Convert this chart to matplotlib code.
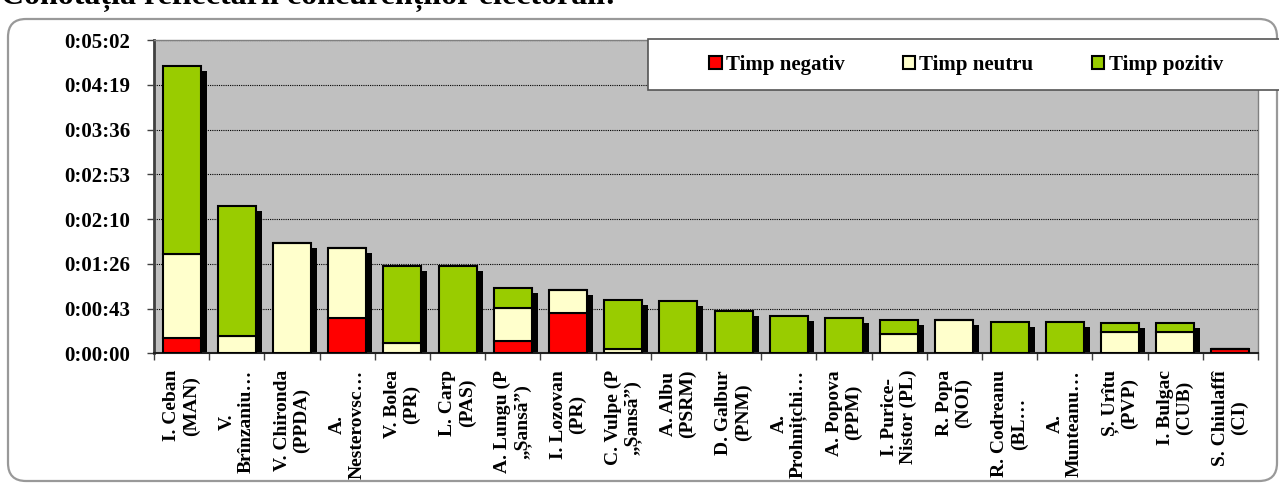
import numpy as np
import matplotlib
matplotlib.use("Agg")
import matplotlib.pyplot as plt
import matplotlib.transforms as mtransforms
from matplotlib.patches import Rectangle, FancyBboxPatch

plt.rcParams['font.family'] = ['Liberation Serif', 'DejaVu Serif']
plt.rcParams['font.weight'] = 'bold'

# candidates (as they appear wrapped / truncated on the axis)
candidates = [
    "I. Ceban\n(MAN)", "V.\nBrînzaniu…", "V. Chironda\n(PPDA)", "A.\nNesterovsc…",
    "V. Bolea\n(PR)", "L. Carp\n(PAS)", "A. Lungu (P\n„Șansă”)", "I. Lozovan\n(PR)",
    "C. Vulpe (P\n„Șansă”)", "A. Albu\n(PSRM)", "D. Galbur\n(PNM)", "A.\nProhnițchi…",
    "A. Popova\n(PPM)", "I. Purice-\nNistor (PL)", "R. Popa\n(NOI)", "R. Codreanu\n(BL…",
    "A.\nMunteanu…", "Ș. Urîtu\n(PVP)", "I. Bulgac\n(CUB)", "S. Chiulaffî\n(CI)",
]

# seconds of coverage
timp_negativ = [15, 0, 0, 34, 0, 0, 12, 38.5, 0, 0, 0, 0, 0, 0, 0, 0, 0, 0, 0, 4.5]
timp_neutru = [81, 17, 106, 67.5, 10, 0, 32, 22.5, 4.5, 0, 0, 0, 0, 18.5, 32, 0, 0, 20.5, 20.5, 0]
timp_pozitiv = [181, 125, 0, 0, 74, 84.5, 19, 0, 46.5, 50, 41, 36, 34, 13.5, 0, 30.5, 30.5, 9, 8.5, 0]

series_labels = ["Timp negativ", "Timp neutru", "Timp pozitiv"]
colors = ["#FF0000", "#FFFFCC", "#99CC00"]

y_ticks = [0, 43.2, 86.4, 129.6, 172.8, 216.0, 259.2, 302.4]
y_tick_labels = ["0:00:00", "0:00:43", "0:01:26", "0:02:10", "0:02:53", "0:03:36", "0:04:19", "0:05:02"]

W, H = 1279, 483
fig = plt.figure(figsize=(W / 100, H / 100), dpi=100)

# rounded outer frame
frame = FancyBboxPatch((0.08, 0.02), 12.69, 4.62, boxstyle="round,pad=0,rounding_size=0.18",
                       transform=fig.dpi_scale_trans, facecolor="none", edgecolor="#999999",
                       linewidth=1.6, zorder=-1)
fig.patches.append(frame)

fig.text(1 / W, 1 - 4 / H, "Conotația reflectării concurenților electorali:",
         fontsize=23, fontweight="bold", ha="left", va="baseline")

ax = fig.add_axes([154 / W, 1 - 353.3 / H, 1104 / W, 313.3 / H])
ax.set_facecolor("#C0C0C0")

x = np.arange(len(candidates))
neg = np.array(timp_negativ)
neu = np.array(timp_neutru)
pos = np.array(timp_pozitiv)
total = neg + neu + pos
bw = 0.69

# black drop shadow behind each bar
shadow_tr = ax.transData + mtransforms.ScaledTranslation(0.06, -0.05, fig.dpi_scale_trans)
ax.bar(x, total, bw, color="black", linewidth=0, transform=shadow_tr, zorder=2)

bars = []
bottom = np.zeros(len(x))
for vals, lab, col in zip([neg, neu, pos], series_labels, colors):
    b = ax.bar(x, vals, bw, bottom=bottom, color=col, edgecolor="black",
               linewidth=1.5, label=lab, zorder=3)
    bars.append(b)
    bottom = bottom + vals

ax.set_xlim(-0.5, len(x) - 0.5)
ax.set_ylim(0, 302.4)
ax.set_yticks(y_ticks)
ax.set_yticklabels(y_tick_labels, fontsize=15, fontweight="bold")
ax.yaxis.grid(True, color="black", linestyle=(0, (1, 1)), linewidth=0.8, zorder=1)
ax.set_axisbelow(True)

ax.set_xticks(x)
ax.set_xticklabels(candidates, rotation=90, fontsize=14, fontweight="bold",
                   ha="center", va="top", multialignment="center", linespacing=1.15)
ax.set_xticks(np.arange(-0.5, len(x), 1), minor=True)
ax.tick_params(axis="x", which="major", length=0, pad=12)
ax.tick_params(axis="x", which="minor", length=5, width=1, color="#404040")
ax.tick_params(axis="y", length=5, width=1, color="#404040", pad=12)

for side in ["top", "right"]:
    ax.spines[side].set_color("#808080")
    ax.spines[side].set_linewidth(1)
ax.spines["left"].set_color("#404040")
ax.spines["left"].set_linewidth(2)
ax.spines["bottom"].set_color("#202020")
ax.spines["bottom"].set_linewidth(1.5)

# legend box, running off the right edge
legend_box = Rectangle((648 / W, 1 - 90 / H), (1310 - 648) / W, 51 / H, transform=fig.transFigure,
                       facecolor="white", edgecolor="#555555", linewidth=1.2, zorder=5)
fig.patches.append(legend_box)
leg = fig.legend(handles=bars, labels=series_labels, loc="center left",
                 bbox_to_anchor=(709 / W, 1 - 65 / H), ncol=3, frameon=False,
                 prop={"size": 15, "weight": "bold"}, handlelength=0.6, handleheight=0.6,
                 handletextpad=0.2, columnspacing=2.8, borderpad=0, borderaxespad=0)
leg.set_zorder(6)

fig.savefig("out.png", dpi=100)
